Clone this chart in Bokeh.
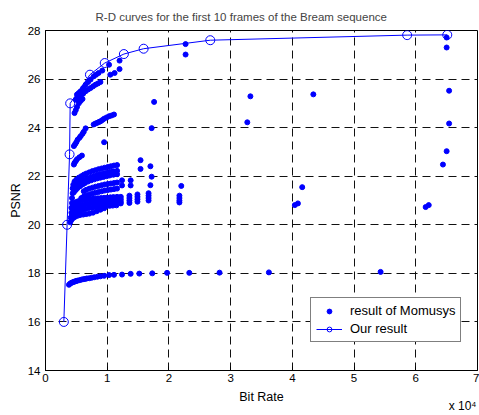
from bokeh.plotting import figure
from bokeh.models import Range1d, FixedTicker, Legend, LegendItem, Title
from bokeh.embed import file_html
from bokeh.resources import INLINE

FONT = "Liberation Sans"
BLUE = "#0000ff"

x_ticks = [0, 1, 2, 3, 4, 5, 6, 7]
y_ticks = [14, 16, 18, 20, 22, 24, 26, 28]

# Our result (bit rate in units of 1e4, PSNR in dB)
ours_rate = [0.297, 0.35, 0.39, 0.40, 0.72, 0.96, 1.27, 1.59, 2.67, 5.86, 6.51]
ours_psnr = [16.0, 20.0, 22.9, 25.0, 26.18, 26.66, 27.03, 27.25, 27.6, 27.81, 27.82]

# result of Momusys: several groups of points
m18_rate = [0.38, 0.40, 0.42, 0.44, 0.46, 0.48, 0.50, 0.52, 0.55, 0.58, 0.61, 0.64, 0.67, 0.71, 0.75,
            0.79, 0.84, 0.89, 0.95, 1.03, 1.11, 1.24, 1.38, 1.52, 1.73, 1.97, 2.33, 2.82, 3.62, 5.43]
m18_psnr = [17.53, 17.58, 17.61, 17.63, 17.65, 17.67, 17.69, 17.70, 17.72, 17.74, 17.76, 17.77, 17.79, 17.80, 17.82,
            17.84, 17.86, 17.88, 17.90, 17.93, 17.94, 17.95, 17.98, 17.99, 18.00, 18.02, 18.02, 18.03, 18.04, 18.06]

d1_rate = [0.47, 0.50, 0.54, 0.58, 0.62, 0.66, 0.71, 0.76, 0.81, 0.86, 0.91, 0.96, 1.01, 1.06, 1.11, 1.16]
d1_psnr = [21.78, 21.86, 21.94, 22.00, 22.06, 22.11, 22.16, 22.21, 22.25, 22.29, 22.32, 22.35, 22.38, 22.41, 22.44, 22.46]
d2_rate = [0.46, 0.49, 0.53, 0.57, 0.61, 0.65, 0.70, 0.75, 0.80, 0.85, 0.90, 0.95, 1.00, 1.05, 1.10, 1.16]
d2_psnr = [21.55, 21.63, 21.70, 21.77, 21.83, 21.88, 21.93, 21.98, 22.02, 22.06, 22.09, 22.12, 22.15, 22.18, 22.20, 22.22]
d3_rate = [0.46, 0.49, 0.52, 0.56, 0.60, 0.64, 0.69, 0.74, 0.79, 0.84, 0.89, 0.94, 0.99, 1.04, 1.10, 1.16]
d3_psnr = [21.34, 21.43, 21.51, 21.59, 21.66, 21.72, 21.78, 21.83, 21.87, 21.91, 21.94, 21.97, 22.00, 22.03, 22.06, 22.08]
d4_rate = [0.62, 0.66, 0.71, 0.76, 0.81, 0.86, 0.91, 0.96, 1.01, 1.06, 1.11, 1.16]
d4_psnr = [21.38, 21.44, 21.49, 21.53, 21.57, 21.60, 21.63, 21.66, 21.68, 21.70, 21.72, 21.74]
d5_rate = [0.58, 0.62, 0.66, 0.71, 0.76, 0.81, 0.86, 0.91, 0.96, 1.01, 1.06, 1.11, 1.16]
d5_psnr = [21.10, 21.16, 21.21, 21.25, 21.29, 21.32, 21.35, 21.38, 21.41, 21.43, 21.45, 21.47, 21.49]
d6_rate = [0.44, 0.47, 0.50, 0.53, 0.57, 0.61, 0.65, 0.70, 0.75, 0.80, 0.85, 0.90, 0.95, 1.00, 1.05, 1.10, 1.16]
d6_psnr = [20.85, 20.90, 20.94, 20.97, 21.00, 21.02, 21.04, 21.06, 21.07, 21.08, 21.09, 21.10, 21.11, 21.12, 21.13, 21.14, 21.15]
d7_rate = [0.44, 0.47, 0.50, 0.54, 0.58, 0.62, 0.66, 0.71, 0.76, 0.81, 0.86, 0.91, 0.96, 1.01, 1.06, 1.11, 1.16]
d7_psnr = [20.62, 20.68, 20.73, 20.77, 20.80, 20.83, 20.86, 20.88, 20.90, 20.92, 20.93, 20.94, 20.95, 20.96, 20.97, 20.98, 20.99]
d8_rate = [0.43, 0.46, 0.49, 0.52, 0.56, 0.60, 0.64, 0.69, 0.74, 0.79, 0.84, 0.89, 0.94, 0.99, 1.04, 1.09, 1.15]
d8_psnr = [20.40, 20.46, 20.51, 20.55, 20.59, 20.62, 20.65, 20.68, 20.70, 20.72, 20.74, 20.75, 20.76, 20.77, 20.78, 20.79, 20.80]
d9_rate = [0.40, 0.42, 0.45, 0.48, 0.52, 0.56, 0.61, 0.66, 0.71, 0.77, 0.83, 0.89, 0.95]
d9_psnr = [20.10, 20.20, 20.28, 20.33, 20.37, 20.40, 20.42, 20.44, 20.46, 20.50, 20.56, 20.62, 20.68]
dl_rate = [0.41, 0.42, 0.42, 0.43, 0.43, 0.44, 0.44, 0.45]
dl_psnr = [20.30, 20.50, 20.70, 20.90, 21.10, 21.30, 21.50, 21.65]

ext_rate = [1.22, 1.22, 1.22, 1.22, 1.36, 1.36, 1.36, 1.36, 1.49, 1.49, 1.49, 1.49,
            1.67, 1.67, 1.67, 1.67, 2.17, 2.17, 2.17, 2.17,
            1.24, 1.24, 1.38, 1.38, 1.54, 1.54, 1.70, 1.72, 1.70, 2.20]
ext_psnr = [21.15, 21.05, 20.95, 20.88, 21.20, 21.10, 21.00, 20.90, 21.25, 21.15, 21.05, 20.95,
            21.30, 21.20, 21.10, 21.00, 21.20, 21.10, 21.00, 20.92,
            21.83, 21.62, 21.83, 21.62, 22.66, 22.30, 22.41, 21.98, 21.63, 21.60]

u1_rate = [0.46, 0.48, 0.50, 0.52, 0.55, 0.57, 0.60, 0.62, 0.65]
u1_psnr = [23.24, 23.32, 23.40, 23.50, 23.58, 23.65, 23.75, 23.83, 23.97]
u2_rate = [0.78, 0.81, 0.84, 0.87, 0.89, 0.92, 0.95, 0.99, 1.03, 1.07, 1.11]
u2_psnr = [24.13, 24.17, 24.20, 24.24, 24.26, 24.31, 24.37, 24.42, 24.47, 24.50, 24.54]
u3_rate = [0.46, 0.47, 0.49, 0.51, 0.55, 0.59]
u3_psnr = [22.48, 22.55, 22.62, 22.70, 22.78, 22.85]

a1_rate = [0.51, 0.54, 0.57, 0.61, 0.65, 0.69, 0.73, 0.78, 0.82, 0.86, 0.92]
a1_psnr = [25.36, 25.43, 25.50, 25.63, 25.77, 25.88, 25.98, 26.11, 26.18, 26.25, 26.35]
a2_rate = [0.49, 0.52, 0.57, 0.61, 0.65, 0.69, 0.73, 0.77, 0.81, 0.85, 0.89]
a2_psnr = [25.15, 25.22, 25.30, 25.40, 25.50, 25.57, 25.63, 25.70, 25.77, 25.82, 25.88]
a3_rate = [0.47, 0.49, 0.51, 0.54, 0.57, 0.60]
a3_psnr = [24.60, 24.72, 24.85, 25.00, 25.10, 25.18]
a4_rate = [1.03, 1.05, 1.12, 1.20, 1.20]
a4_psnr = [26.59, 26.18, 26.25, 26.41, 26.76]

far_rate = [0.95, 1.72, 1.76, 2.27, 2.27, 3.32, 3.27, 4.34, 4.04, 4.09, 4.16,
            6.16, 6.21, 6.44, 6.50, 6.50, 6.50, 6.54, 6.54]
far_psnr = [23.40, 23.98, 25.06, 27.44, 27.01, 25.29, 24.22, 25.37, 20.81, 20.88, 21.55,
            20.73, 20.81, 22.48, 23.03, 27.71, 27.30, 25.52, 24.17]

groups = [(m18_rate, m18_psnr), (d1_rate, d1_psnr), (d2_rate, d2_psnr), (d3_rate, d3_psnr),
          (d4_rate, d4_psnr), (d5_rate, d5_psnr), (d6_rate, d6_psnr), (d7_rate, d7_psnr),
          (d8_rate, d8_psnr), (d9_rate, d9_psnr), (dl_rate, dl_psnr), (ext_rate, ext_psnr),
          (u1_rate, u1_psnr), (u2_rate, u2_psnr), (u3_rate, u3_psnr),
          (a1_rate, a1_psnr), (a2_rate, a2_psnr), (a3_rate, a3_psnr), (a4_rate, a4_psnr),
          (far_rate, far_psnr)]
mom_rate, mom_psnr = [], []
for r, s in groups:
    assert len(r) == len(s)
    mom_rate += r
    mom_psnr += s

p = figure(width=479, height=415, output_backend="svg", toolbar_location=None,
           x_range=Range1d(0, 7), y_range=Range1d(14, 28),
           x_axis_label="Bit Rate", y_axis_label="PSNR",
           min_border_left=45, min_border_right=2, min_border_top=29, min_border_bottom=45)
p.background_fill_color = "white"
p.border_fill_color = "white"
p.outline_line_color = "black"
p.outline_line_width = 1

p.title.text = "R-D curves for the first 10 frames of the Bream sequence"
p.title.text_font = FONT
p.title.text_font_size = "11.5px"
p.title.text_font_style = "normal"
p.title.align = "left"
p.title.offset = 50
p.title.standoff = 16

p.xaxis.ticker = FixedTicker(ticks=x_ticks)
p.yaxis.ticker = FixedTicker(ticks=y_ticks)
for ax in p.axis:
    ax.major_tick_in = 4
    ax.major_tick_out = 0
    ax.minor_tick_in = 0
    ax.minor_tick_out = 0
    ax.axis_line_color = "black"
    ax.major_tick_line_color = "black"
    ax.major_label_text_font = FONT
    ax.major_label_text_font_size = "11.5px"
    ax.major_label_text_color = "black"
    ax.axis_label_text_font = FONT
    ax.axis_label_text_font_size = "12.5px"
    ax.axis_label_text_font_style = "normal"
    ax.axis_label_text_color = "black"
p.xaxis.major_label_standoff = 3
p.xaxis.axis_label_standoff = 5
p.yaxis.major_label_standoff = 5
p.yaxis.axis_label_standoff = 2

for g, t in ((p.xgrid, x_ticks), (p.ygrid, y_ticks)):
    g.ticker = FixedTicker(ticks=t)
    g.grid_line_color = "#111111"
    g.grid_line_dash = "8 5"
    g.grid_line_width = 1

r_mom = p.scatter(mom_rate, mom_psnr, marker="circle", size=5, fill_color=BLUE, line_color=BLUE)
r_line = p.line(ours_rate, ours_psnr, line_color=BLUE, line_width=1)
r_circ = p.scatter(ours_rate, ours_psnr, marker="circle", size=9, fill_color=None,
                   line_color=BLUE, line_width=1)

legend = Legend(items=[LegendItem(label="result of Momusys", renderers=[r_mom]),
                       LegendItem(label="Our result", renderers=[r_line, r_circ])],
                location=(265, 28))
legend.label_text_font = FONT
legend.label_text_font_size = "13px"
legend.label_text_color = "black"
legend.label_height = 12
legend.glyph_height = 12
legend.glyph_width = 26
legend.label_standoff = 8
legend.padding = 5
legend.spacing = 3
legend.margin = 0
legend.border_line_color = "black"
legend.border_line_width = 1
legend.background_fill_alpha = 1
p.add_layout(legend)

scale_note = Title(text="x 10\u2074", align="right", vertical_align="top", offset=1,
                   standoff=-16, text_font=FONT, text_font_size="12px",
                   text_font_style="normal", text_color="black")
p.add_layout(scale_note, "below")

open("out.html", "w").write(file_html(p, INLINE))
